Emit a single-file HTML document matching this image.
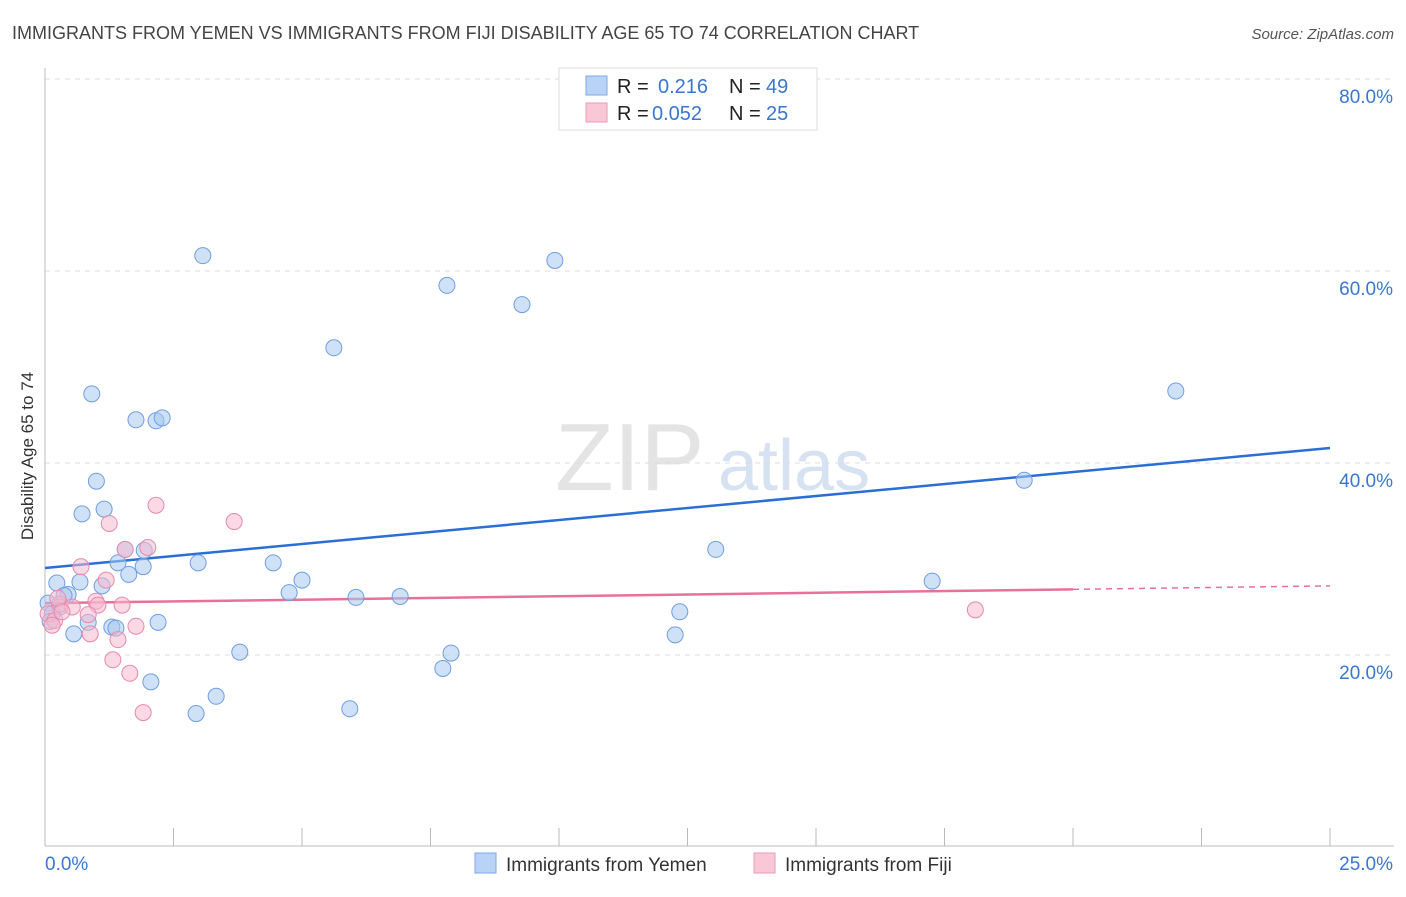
<!DOCTYPE html>
<html><head><meta charset="utf-8"><style>
body{margin:0;background:#fff;font-family:"Liberation Sans",sans-serif;}
svg text{font-family:"Liberation Sans",sans-serif;}
</style></head><body>
<svg id="chart" width="1406" height="892" xmlns="http://www.w3.org/2000/svg">
<text x="12" y="39" font-size="18" fill="#444">IMMIGRANTS FROM YEMEN VS IMMIGRANTS FROM FIJI DISABILITY AGE 65 TO 74 CORRELATION CHART</text>
<text x="1394" y="39" font-size="15" fill="#555" text-anchor="end" font-style="italic">Source: ZipAtlas.com</text>
<text x="555" y="490" font-size="96" fill="#e4e4e4" font-family="Liberation Serif">ZIP</text>
<text x="718" y="490" font-size="72" fill="#d6e2f2">atlas</text>
<g id="grid"></g>
<g id="axes"></g>
<g id="lines"></g>
<g id="dots"></g>
<text transform="translate(33,456) rotate(-90)" font-size="17" fill="#333" text-anchor="middle">Disability Age 65 to 74</text>
<g>
<rect x="559" y="68" width="258" height="62" fill="#fff" stroke="#ddd"/>
<rect x="586" y="76" width="21" height="19" fill="#b8d3f5" stroke="#7ea9e6"/>
<rect x="586" y="103" width="21" height="19" fill="#f9c8d7" stroke="#ec9ab5"/>
<text x="617" y="93" font-size="20" fill="#222">R = </text><text x="658" y="93" font-size="20" fill="#3a76d0">0.216</text>
<text x="729" y="93" font-size="20" fill="#222">N = </text><text x="766" y="93" font-size="20" fill="#3a76d0">49</text>
<text x="617" y="120" font-size="20" fill="#222">R = </text><text x="652" y="120" font-size="20" fill="#3a76d0">0.052</text>
<text x="729" y="120" font-size="20" fill="#222">N = </text><text x="766" y="120" font-size="20" fill="#3a76d0">25</text>
</g>
<g>
<rect x="475" y="853" width="21" height="20" fill="#b8d3f5" stroke="#7ea9e6"/>
<text x="506" y="871" font-size="19" fill="#333">Immigrants from Yemen</text>
<rect x="754" y="853" width="21" height="20" fill="#f9c8d7" stroke="#ec9ab5"/>
<text x="785" y="871" font-size="19" fill="#333">Immigrants from Fiji</text>
</g>
</svg>
<script>
const yemenX=[3.07,9.92,7.82,9.28,5.62,0.91,1.77,2.16,2.28,1.0,0.72,1.15,1.56,1.93,1.42,1.91,1.63,2.98,4.44,0.68,0.23,1.11,4.75,5.0,6.05,6.91,0.45,0.37,0.29,0.06,0.14,0.1,0.84,2.2,1.3,1.38,0.56,3.79,2.06,3.33,2.94,5.93,7.9,7.74,13.05,12.35,12.26,17.26,19.05,22.0];
const yemenY=[61.6,61.1,58.5,56.5,52.0,47.2,44.5,44.4,44.7,38.1,34.7,35.2,31.0,30.9,29.6,29.2,28.4,29.6,29.6,27.6,27.5,27.2,26.5,27.8,26.0,26.1,26.3,26.2,25.0,25.4,24.3,23.5,23.4,23.4,22.9,22.8,22.2,20.3,17.2,15.7,13.9,14.4,20.2,18.6,31.0,24.5,22.1,27.7,38.2,47.5];
const fijiX=[2.16,3.68,1.25,2.0,1.56,0.7,1.19,0.99,1.5,1.03,0.29,0.53,0.06,0.19,0.14,0.84,1.77,0.88,1.42,1.32,1.65,1.91,18.1,0.25,0.33];
const fijiY=[35.6,33.9,33.7,31.2,31.0,29.2,27.8,25.6,25.2,25.2,25.3,25.0,24.3,23.6,23.1,24.2,23.0,22.2,21.6,19.5,18.1,14.0,24.7,25.9,24.5];
const yTicks=[20,40,60,80];
const yLabels=["20.0%","40.0%","60.0%","80.0%"];
const xTicks=[0,2.5,5,7.5,10,12.5,15,17.5,20,22.5,25];
const trendYemen=[29.06,41.56];
const trendFiji=[25.4,27.2];
const NS="http://www.w3.org/2000/svg";
const sx=v=>45+v*51.4, sy=v=>847-v*9.6;
function mk(p,t,a){const e=document.createElementNS(NS,t);for(const k in a)e.setAttribute(k,a[k]);document.getElementById(p).appendChild(e);return e;}
yTicks.forEach((t,i)=>{
 const l=mk('grid','line',{x1:45,x2:1394,y1:sy(t),y2:sy(t),stroke:'#ddd','stroke-dasharray':'5,5'});
 
 
 const tx=mk('grid','text',{x:1393,y:sy(t)+24,'font-size':19,fill:'#3a76d0','text-anchor':'end'});
 tx.textContent=yLabels[i];
 
 
});
const ax=mk('axes','line',{x1:45,x2:45,y1:68,y2:846,stroke:'#bbb'});


const bx=mk('axes','line',{x1:45,x2:1394,y1:846,y2:846,stroke:'#bbb'});


xTicks.forEach(t=>{
 const l=mk('axes','line',{x1:sx(t),x2:sx(t),y1:828,y2:846,stroke:'#bbb'});
 
 
});
const x0=mk('axes','text',{x:45,y:870,'font-size':19,fill:'#3a76d0'});x0.textContent='0.0%';


const x1=mk('axes','text',{x:1393,y:870,'font-size':19,fill:'#3a76d0','text-anchor':'end'});x1.textContent='25.0%';


yemenX.forEach((x,i)=>{
 const c=mk('dots','circle',{cx:sx(x),cy:sy(yemenY[i]),r:8,fill:'rgba(168,200,240,0.55)',stroke:'#6f9ee0','stroke-width':1});
 
 
});
fijiX.forEach((x,i)=>{
 const c=mk('dots','circle',{cx:sx(x),cy:sy(fijiY[i]),r:8,fill:'rgba(246,184,206,0.55)',stroke:'#e88aab','stroke-width':1});
 
 
});
const ty=mk('lines','line',{x1:sx(0),y1:sy(trendYemen[0]),x2:sx(25),y2:sy(trendYemen[1]),stroke:'#2a6fd6','stroke-width':2.5});


const fAt=v=>trendFiji[0]+(trendFiji[1]-trendFiji[0])*v/25;
const tf=mk('lines','line',{x1:sx(0),y1:sy(fAt(0)),x2:sx(20),y2:sy(fAt(20)),stroke:'#e8709a','stroke-width':2.5});


const tfd=mk('lines','line',{x1:sx(20),y1:sy(fAt(20)),x2:sx(25),y2:sy(fAt(25)),stroke:'#e8709a','stroke-width':1.5,'stroke-dasharray':'6,5'});


</script>
</body></html>
